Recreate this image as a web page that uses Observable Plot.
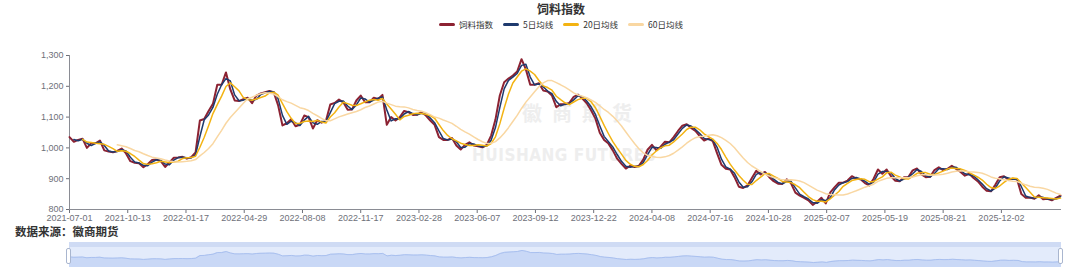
<!DOCTYPE html>
<html><head><meta charset="utf-8">
<script src="https://cdn.jsdelivr.net/npm/d3@7"></script>
<script src="https://cdn.jsdelivr.net/npm/@observablehq/plot@0.6"></script>
<style>
html,body{margin:0;padding:0;background:#fff;}
body{width:1080px;height:272px;overflow:hidden;position:relative;font-family:"Noto Sans CJK SC","Noto Sans",sans-serif;}
#title{width:1080px;box-sizing:border-box;padding-left:42px;height:17px;line-height:17px;text-align:center;font-size:12px;font-weight:700;color:#333;}
#legend{width:1080px;box-sizing:border-box;padding-left:42px;height:14px;display:flex;justify-content:center;align-items:center;font-size:8.5px;color:#333;}
#legend .item{display:flex;align-items:center;margin:0 5px;}
#legend .sw{width:16px;height:3px;border-radius:2px;margin-right:4px;}
#chartWrap{position:relative;height:192px;}
#wm1,#wm2{position:absolute;color:#eeeeee;font-weight:700;white-space:nowrap;pointer-events:none;}
#wm1{left:522px;top:67px;font-size:20px;letter-spacing:10px;}
#wm2{left:472px;top:114px;font-size:17px;letter-spacing:0.5px;font-family:"DejaVu Sans Condensed","Liberation Sans Narrow",sans-serif;}
#chartWrap svg{position:relative;}
#source{height:16px;line-height:16px;padding-left:15px;font-size:11.5px;font-weight:700;color:#333;}
#slider{position:relative;height:33px;}
#sbg{position:absolute;left:69px;top:3px;width:992px;height:25px;background:#e3ebfb;box-sizing:border-box;border:1px solid #d3ddf1;}
#sbar{position:absolute;left:69px;top:3px;width:992px;height:5px;background:#cfdbf4;}
#slider svg{position:absolute;left:0;top:3px;}
.hd{position:absolute;top:9px;width:3px;height:14px;background:#fff;border:1px solid #a9b6cf;border-radius:2px;}
</style></head><body>
<div id="title">饲料指数</div>
<div id="legend"></div>
<div id="chartWrap"><div id="wm1">徽商期货</div><div id="wm2">HUISHANG FUTURES</div></div>
<div id="source">数据来源：徽商期货</div>
<div id="slider"><div id="sbg"></div><div id="sbar"></div><div class="hd" style="left:66px"></div><div class="hd" style="left:1058px"></div></div>
<script>
// ---- data ----
const seriesNames = ["饲料指数", "5日均线", "20日均线", "60日均线"];
const seriesColors = ["#8c2232", "#1e3a6e", "#f3b312", "#f9d7a2"];
const tickLabels = ["2021-07-01","2021-10-13","2022-01-17","2022-04-29","2022-08-08","2022-11-17","2023-02-28","2023-06-07","2023-09-12","2023-12-22","2024-04-08","2024-07-16","2024-10-28","2025-02-07","2025-05-19","2025-08-21","2025-12-02"];
const yTicks = [800, 900, 1000, 1100, 1200, 1300];
const labelEvery = 67;   // trading days between labelled categories
const sampleEvery = 5;   // trading days between readings below
const feedIndex = [
1035,1020,1026,1030,1000,1015,1015,1024,992,988,986,990,998,982,957,952,950,937,947,961,962,957,938,953,968,969,971,965,970,
985,1089,1094,1120,1143,1205,1205,1245,1190,1154,1152,1158,1163,1145,1170,1177,1181,1185,1180,1138,1073,1080,1093,1070,1075,1105,1100,1063,
1090,1082,1088,1141,1146,1157,1148,1124,1125,1154,1170,1148,1148,1163,1159,1172,1075,1100,1089,1100,1120,1116,1107,1108,1116,1105,1089,1075,1035,
1026,1026,1032,1008,995,1010,1018,1008,1005,1002,1010,1040,1092,1170,1213,1225,1235,1248,1288,1255,1205,1205,1210,1186,1183,1170,1132,1142,1142,
1146,1166,1173,1160,1145,1122,1095,1049,1026,1014,992,965,948,933,942,938,942,962,994,1010,993,1004,1020,1018,1035,1055,1072,1077,
1065,1055,1038,1024,1030,1022,982,945,932,930,905,874,870,878,902,926,914,922,905,892,884,883,898,885,855,845,838,830,815,
825,838,820,855,872,887,887,894,908,900,898,886,878,900,930,916,930,908,893,892,905,905,927,933,914,905,906,928,937,
928,932,942,932,922,910,916,902,891,874,861,859,880,905,908,897,900,898,850,838,839,835,846,833,835,830,838,845
];
// moving-average windows, expressed in readings (5, 20, 60 trading days)
const maWindows = [2, 4, 12];

const rows = feedIndex.map((v, i) => ({day: i * sampleEvery, v}));
const xDomain = [0, (feedIndex.length - 1) * sampleEvery];

// legend
const lg = document.getElementById("legend");
seriesNames.forEach((n, i) => {
  const it = document.createElement("div"); it.className = "item";
  const sw = document.createElement("div"); sw.className = "sw"; sw.style.background = seriesColors[i];
  const tx = document.createElement("span"); tx.textContent = n;
  it.appendChild(sw); it.appendChild(tx); lg.appendChild(it);
});

const maMark = (w, idx, sw) => Plot.lineY(rows, Plot.windowY(
  {k: w, anchor: "end", strict: true},
  {x: "day", y: "v", stroke: seriesColors[idx], strokeWidth: sw}));

const main = Plot.plot({
  width: 1080, height: 192,
  marginLeft: 69, marginRight: 20, marginTop: 24, marginBottom: 14,
  x: {domain: xDomain, axis: null},
  y: {domain: [800, 1300], axis: null},
  style: {fontFamily: "'Liberation Sans', Arial, sans-serif", fontSize: "9px", color: "#6e7079", background: "transparent", overflow: "visible"},
  marks: [
    Plot.axisY({ticks: yTicks, tickSize: 3, tickPadding: 3, tickFormat: d3.format(","), label: null}),
    Plot.axisX({ticks: tickLabels.map((_, k) => k * labelEvery), tickFormat: (d, i) => tickLabels[i], tickSize: 4, tickPadding: 1.5, label: null}),
    Plot.frame({anchor: "left", stroke: "#8a8c94"}),
    Plot.frame({anchor: "bottom", stroke: "#8a8c94"}),
    Plot.lineY(rows, {x: "day", y: "v", stroke: seriesColors[0], strokeWidth: 2}),
    maMark(maWindows[0], 1, 1.5),
    maMark(maWindows[1], 2, 1.5),
    maMark(maWindows[2], 3, 1.5)
  ]
});
document.getElementById("chartWrap").appendChild(main);

const slider = Plot.plot({
  width: 1080, height: 25,
  marginLeft: 69, marginRight: 19, marginTop: 0, marginBottom: 0,
  x: {domain: xDomain, axis: null},
  y: {domain: [620, 1600], axis: null},
  style: {background: "transparent"},
  marks: [
    Plot.areaY(rows, {x: "day", y1: 620, y2: "v", fill: "#c9d8f6"}),
    Plot.lineY(rows, {x: "day", y: "v", stroke: "#a9c0ef", strokeWidth: 1})
  ]
});
document.getElementById("slider").insertBefore(slider, document.querySelector("#slider .hd"));
</script>
</body></html>
